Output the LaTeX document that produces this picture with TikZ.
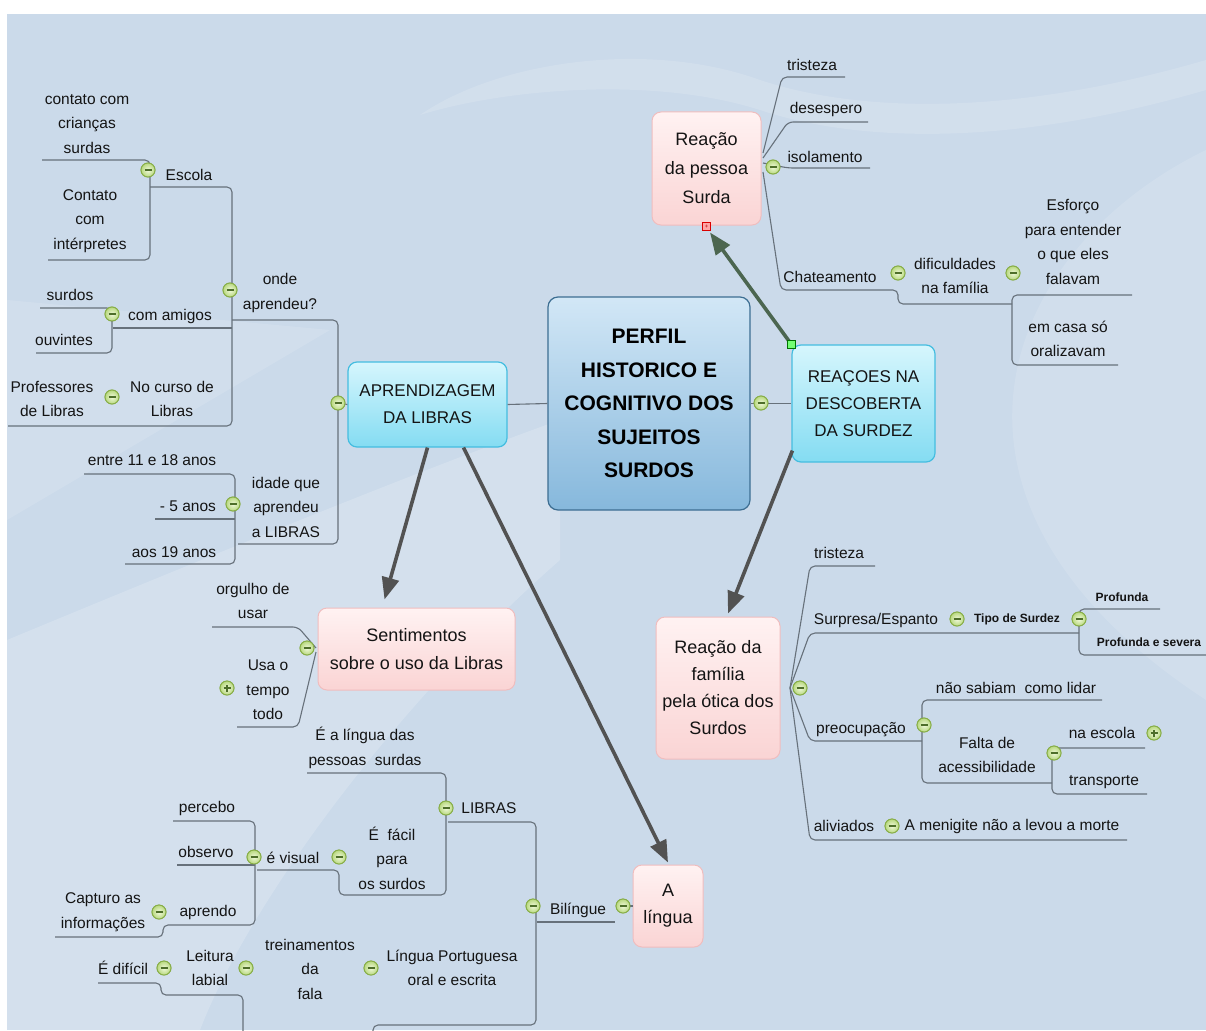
\documentclass[tikz,border=0pt]{standalone}
\usepackage{fontspec}
\setmainfont{Liberation Sans}
\usetikzlibrary{arrows.meta}
\definecolor{bgc}{HTML}{CBDAEA}
\definecolor{lnc}{HTML}{67717B}
\definecolor{txc}{HTML}{141414}
\definecolor{pinkt}{HTML}{FFF2F2}
\definecolor{pinkb}{HTML}{FAD4D4}
\definecolor{pinkd}{HTML}{F0BDBE}
\definecolor{cyant}{HTML}{D6F6FD}
\definecolor{cyanb}{HTML}{84DCF2}
\definecolor{cyand}{HTML}{45BDE0}
\definecolor{cent}{HTML}{D2E7F6}
\definecolor{cenb}{HTML}{86B8DC}
\definecolor{cend}{HTML}{3D6E92}
\definecolor{circi}{HTML}{F0F9DC}
\definecolor{circo}{HTML}{B8D87E}
\definecolor{circd}{HTML}{87AD47}
\definecolor{minc}{HTML}{4E6E2A}
\definecolor{arrc}{HTML}{525252}
\definecolor{arrg}{HTML}{4C6650}
\begin{document}
\begin{tikzpicture}[x=1pt,y=-1pt,
  tx/.style={align=center, inner sep=0pt, text=txc, font=\fontsize{15.5}{24.5}\selectfont},
  txb/.style={align=center, inner sep=0pt, text=txc, font=\fontsize{12}{15}\selectfont\bfseries},
  ln/.style={draw=lnc, line width=1.1pt, rounded corners=5pt},
  mc/.style={circle, draw=circd, line width=0.9pt, inner color=circi, outer color=circo, minimum size=14pt, inner sep=0pt,
    path picture={\draw[minc, line width=1.3pt] ([xshift=-3.5pt]path picture bounding box.center) -- ([xshift=3.5pt]path picture bounding box.center);}},
  pc/.style={circle, draw=circd, line width=0.9pt, inner color=circi, outer color=circo, minimum size=14pt, inner sep=0pt,
    path picture={\draw[minc, line width=1.3pt] ([xshift=-3.5pt]path picture bounding box.center) -- ([xshift=3.5pt]path picture bounding box.center);
      \draw[minc, line width=1.3pt] ([yshift=-3.5pt]path picture bounding box.center) -- ([yshift=3.5pt]path picture bounding box.center);}},
  pinkbox/.style={rounded corners=9pt, draw=pinkd, line width=1pt, top color=pinkt, bottom color=pinkb, align=center, inner sep=0pt, text=txc, font=\fontsize{18}{28}\selectfont},
  cyanbox/.style={rounded corners=9pt, draw=cyand, line width=1.2pt, top color=cyant, bottom color=cyanb, align=center, inner sep=0pt, text=txc, font=\fontsize{17}{27}\selectfont},
  cenbox/.style={rounded corners=10pt, draw=cend, line width=1.2pt, top color=cent, bottom color=cenb, align=center, inner sep=0pt, text=black, font=\fontsize{21}{33.5}\selectfont\bfseries},
  arr/.style={draw=arrc, line width=3.6pt, -{Triangle[length=22pt,width=17pt]}},
]
\useasboundingbox (0,0) rectangle (1206,1030);
\clip (0,0) rectangle (1206,1030);
% background
\fill[white] (0,0) rectangle (1206,1030);
\fill[bgc] (7,14) rectangle (1206,1030);
\fill[white, opacity=0.18] (7,1030) -- (7,640) .. controls (200,560) and (420,470) .. (560,420) -- (560,560) .. controls (400,700) and (250,900) .. (200,1030) -- cycle;
\fill[white, opacity=0.14] (420,115) .. controls (500,60) and (650,40) .. (760,80) .. controls (850,110) and (1000,120) .. (1206,60) -- (1206,90) .. controls (1000,150) and (850,140) .. (760,110) .. controls (650,75) and (500,90) .. (420,115) -- cycle;
\fill[white, opacity=0.12] (1206,150) .. controls (1000,250) and (900,500) .. (1206,700) -- cycle;
\fill[white, opacity=0.12] (7,300) -- (330,330) -- (7,520) -- cycle;

% ---------- main boxes ----------
\node[cenbox, minimum width=202pt, minimum height=213pt] (c) at (649,403.5) {PERFIL\\HISTORICO E\\COGNITIVO DOS\\SUJEITOS\\SURDOS};
\node[cyanbox, minimum width=159pt, minimum height=85pt] (aprend) at (427.5,404.5) {APRENDIZAGEM\\DA LIBRAS};
\node[cyanbox, minimum width=143pt, minimum height=117pt] (reac) at (863.5,403.5) {REAÇOES NA\\DESCOBERTA\\DA SURDEZ};
\node[pinkbox, minimum width=109pt, minimum height=113pt, font=\fontsize{18}{29}\selectfont] (rps) at (706.5,168.5) {Reação\\da pessoa\\Surda};
\node[pinkbox, minimum width=124pt, minimum height=142pt, font=\fontsize{18}{27}\selectfont] (rfam) at (718,688) {Reação da\\família\\pela ótica dos\\Surdos};
\node[pinkbox, minimum width=197pt, minimum height=82pt] (sent) at (416.5,649) {Sentimentos\\sobre o uso da Libras};
\node[pinkbox, minimum width=70pt, minimum height=82pt, font=\fontsize{18}{27}\selectfont] (alin) at (668,906) {A\\língua};

% ---------- circles ----------
\node[mc] (cescola) at (148,170) {};
\node[mc] (conde) at (230,290) {};
\node[mc] (camigos) at (112,314) {};
\node[mc] (ccurso) at (112,397) {};
\node[mc] (cidade) at (233,504) {};
\node[mc] (caprend) at (338,403) {};
\node[mc] (creac) at (761,403) {};
\node[mc] (crps) at (773,167) {};
\node[mc] (cchat) at (898,273) {};
\node[mc] (cdif) at (1013,273) {};
\node[mc] (cfam) at (800,688) {};
\node[mc] (csurp) at (957,619) {};
\node[mc] (ctipo) at (1079,619) {};
\node[mc] (cpreoc) at (924,725) {};
\node[mc] (cfalta) at (1054,753) {};
\node[pc] (pnaesc) at (1154,733) {};
\node[mc] (caliv) at (892,826) {};
\node[mc] (csent) at (307,648) {};
\node[pc] (pusa) at (227,688) {};
\node[mc] (clibras) at (446,808) {};
\node[mc] (cevis) at (254,857) {};
\node[mc] (cefac) at (339,857) {};
\node[mc] (ccapt) at (159,912) {};
\node[mc] (cedif) at (164,968) {};
\node[mc] (cleit) at (246,968) {};
\node[mc] (ctrein) at (371,968) {};
\node[mc] (cbiling) at (533,906) {};
\node[mc] (calin) at (623,906) {};

% ---------- texts ----------
\node[tx] (n1) at (87,124) {contato com\\crianças\\surdas};
\node[tx] (n2) at (90,221) {Contato\\com\\intérpretes};
\node[tx] (escola) at (189,175) {Escola};
\node[tx] (onde) at (280,293) {onde\\aprendeu?};
\node[tx] (surdos) at (70,295) {surdos};
\node[tx] (ouvintes) at (64,340) {ouvintes};
\node[tx] (amigos) at (170,316) {com amigos};
\node[tx] (prof) at (52,399) {Professores\\de Libras};
\node[tx] (curso) at (172,399) {No curso de\\Libras};
\node[tx] (entre) at (152,460) {entre 11 e 18 anos};
\node[tx] (menos5) at (188,506) {- 5 anos};
\node[tx] (aos19) at (174,552) {aos 19 anos};
\node[tx] (idade) at (286,507) {idade que\\aprendeu\\a LIBRAS};

\node[tx] (tris1) at (812,65) {tristeza};
\node[tx] (deses) at (826,109) {desespero};
\node[tx] (isol) at (825,157) {isolamento};
\node[tx] (chat) at (830,277) {Chateamento};
\node[tx] (dific) at (955,276) {dificuldades\\na família};
\node[tx] (esf) at (1073,242) {Esforço\\para entender\\o que eles\\falavam};
\node[tx] (emcasa) at (1068,339) {em casa só\\oralizavam};

\node[tx] (tris2) at (839,553) {tristeza};
\node[tx] (surp) at (876,620) {Surpresa/Espanto};
\node[txb] (tipo) at (1017,619) {Tipo de Surdez};
\node[txb] (prof1) at (1122,597) {Profunda};
\node[txb] (prof2) at (1149,642) {Profunda e severa};
\node[tx] (naosab) at (1016,688) {não sabiam\ \ como lidar};
\node[tx] (preoc) at (861,730) {preocupação};
\node[tx] (falta) at (987,755) {Falta de\\acessibilidade};
\node[tx] (naesc) at (1102,733) {na escola};
\node[tx] (transp) at (1104,782) {transporte};
\node[tx] (aliv) at (844,826) {aliviados};
\node[tx] (menig) at (1012,826) {A menigite não a levou a morte};

\node[tx] (orgulho) at (253,601) {orgulho de\\usar};
\node[tx] (usa) at (268,690) {Usa o\\tempo\\todo};

\node[tx] (elingua) at (365,748) {É a língua das\\pessoas\ \ surdas};
\node[tx] (libras) at (489,808) {LIBRAS};
\node[tx] (percebo) at (207,808) {percebo};
\node[tx] (observo) at (206,852) {observo};
\node[tx] (evisual) at (293,858) {é visual};
\node[tx] (efacil) at (392,858) {É\ \ fácil\\para\\os surdos};
\node[tx] (aprendo) at (208,912) {aprendo};
\node[tx] (captura) at (103,912) {Capturo as\\informações};
\node[tx] (edif) at (123,968) {É difícil};
\node[tx] (leitura) at (210,968) {Leitura\\labial};
\node[tx] (trein) at (310,969) {treinamentos\\da\\fala};
\node[tx] (lport) at (452,968) {Língua Portuguesa\\oral e escrita};
\node[tx] (biling) at (578,910) {Bilíngue};

% ---------- connector lines ----------
\begin{scope}[ln]
% left tree
\draw (42,160) -- (150,160) -- (150,260) -- (48,260);
\draw (150,187) -- (232,187) -- (232,426) -- (8,426);
\draw (113,328) -- (232,328);
\draw (232,320) -- (338,320) -- (338,544) -- (238,544);
\draw (40,308) -- (112,308) -- (112,353) -- (36,353);
\draw (84,474) -- (235,474) -- (235,564) -- (125,564);
\draw (155,519) -- (235,519);
\draw (caprend) -- (aprend.west);
\draw (aprend.east) -- (c.west);
\draw (c.east) -- (reac.west);
% top right tree
\draw (763,153) -- (782,77) -- (845,77);
\draw (763,158) -- (788,122) -- (868,122);
\draw (763,163) -- (788,168) -- (870,168);
\draw (763,172) -- (781,290) -- (898,290) -- (898,304) -- (1012,304);
\draw (1132,295) -- (1012,295) -- (1012,365) -- (1118,365);
% lower right tree
\draw (790,688) -- (810,566) -- (875,566);
\draw (790,688) -- (810,633) -- (1079,633);
\draw (1160,609) -- (1079,609) -- (1079,655) -- (1206,655);
\draw (790,688) -- (810,741) -- (922,741);
\draw (1102,700) -- (922,700) -- (922,783) -- (1052,783);
\draw (1145,748) -- (1052,748) -- (1052,794) -- (1147,794);
\draw (790,688) -- (810,840) -- (1127,840);
% sentimentos
\draw (212,627) -- (298,627) -- (316,648);
\draw (237,727) -- (298,727) -- (316,652);
% a lingua
\draw (307,773) -- (446,773) -- (446,895) -- (339,895) -- (339,870) -- (257,870);
\draw (448,822) -- (536,822) -- (536,1025) -- (373,1025) -- (373,1034);
\draw (537,922) -- (615,922);
\draw (calin) -- (alin.west);
\draw (173,821) -- (255,821) -- (255,925) -- (163,925) -- (163,937) -- (55,937);
\draw (177,865) -- (255,865);
\draw (98,983) -- (161,983) -- (161,995) -- (243,995) -- (243,1034);
\end{scope}
% redraw circles on top of lines
\foreach \n in {cescola,conde,camigos,ccurso,cidade,caprend,creac,crps,cchat,cdif,cfam,csurp,ctipo,cpreoc,cfalta,caliv,csent,clibras,cevis,cefac,ccapt,cedif,cleit,ctrein,cbiling,calin}
  \node[mc] at (\n) {};
\foreach \n in {pnaesc,pusa}
  \node[pc] at (\n) {};

% ---------- arrows ----------
\draw[arr] ([xshift=0pt]aprend.south) -- ([xshift=-32pt,yshift=8pt]sent.north);
\draw[arr] ([xshift=36pt]aprend.south) -- ([yshift=2pt]alin.north);
\draw[arr] ([xshift=1pt,yshift=12pt]reac.south west) -- ([xshift=10pt,yshift=3pt]rfam.north);
\draw[arr, draw=arrg] (reac.north west) -- ([xshift=3.5pt,yshift=-7pt]rps.south);
\node[draw=green!45!black, fill=green!55!white, minimum size=8pt, inner sep=0pt] (gsq) at (reac.north west) {};
\node[draw=red!85!black, fill=red!35!white, minimum size=8pt, inner sep=0pt, font=\fontsize{6}{6}\selectfont, text=red!70!black] (rsq) at ([yshift=-1pt]rps.south) {+};
\end{tikzpicture}
\end{document}
